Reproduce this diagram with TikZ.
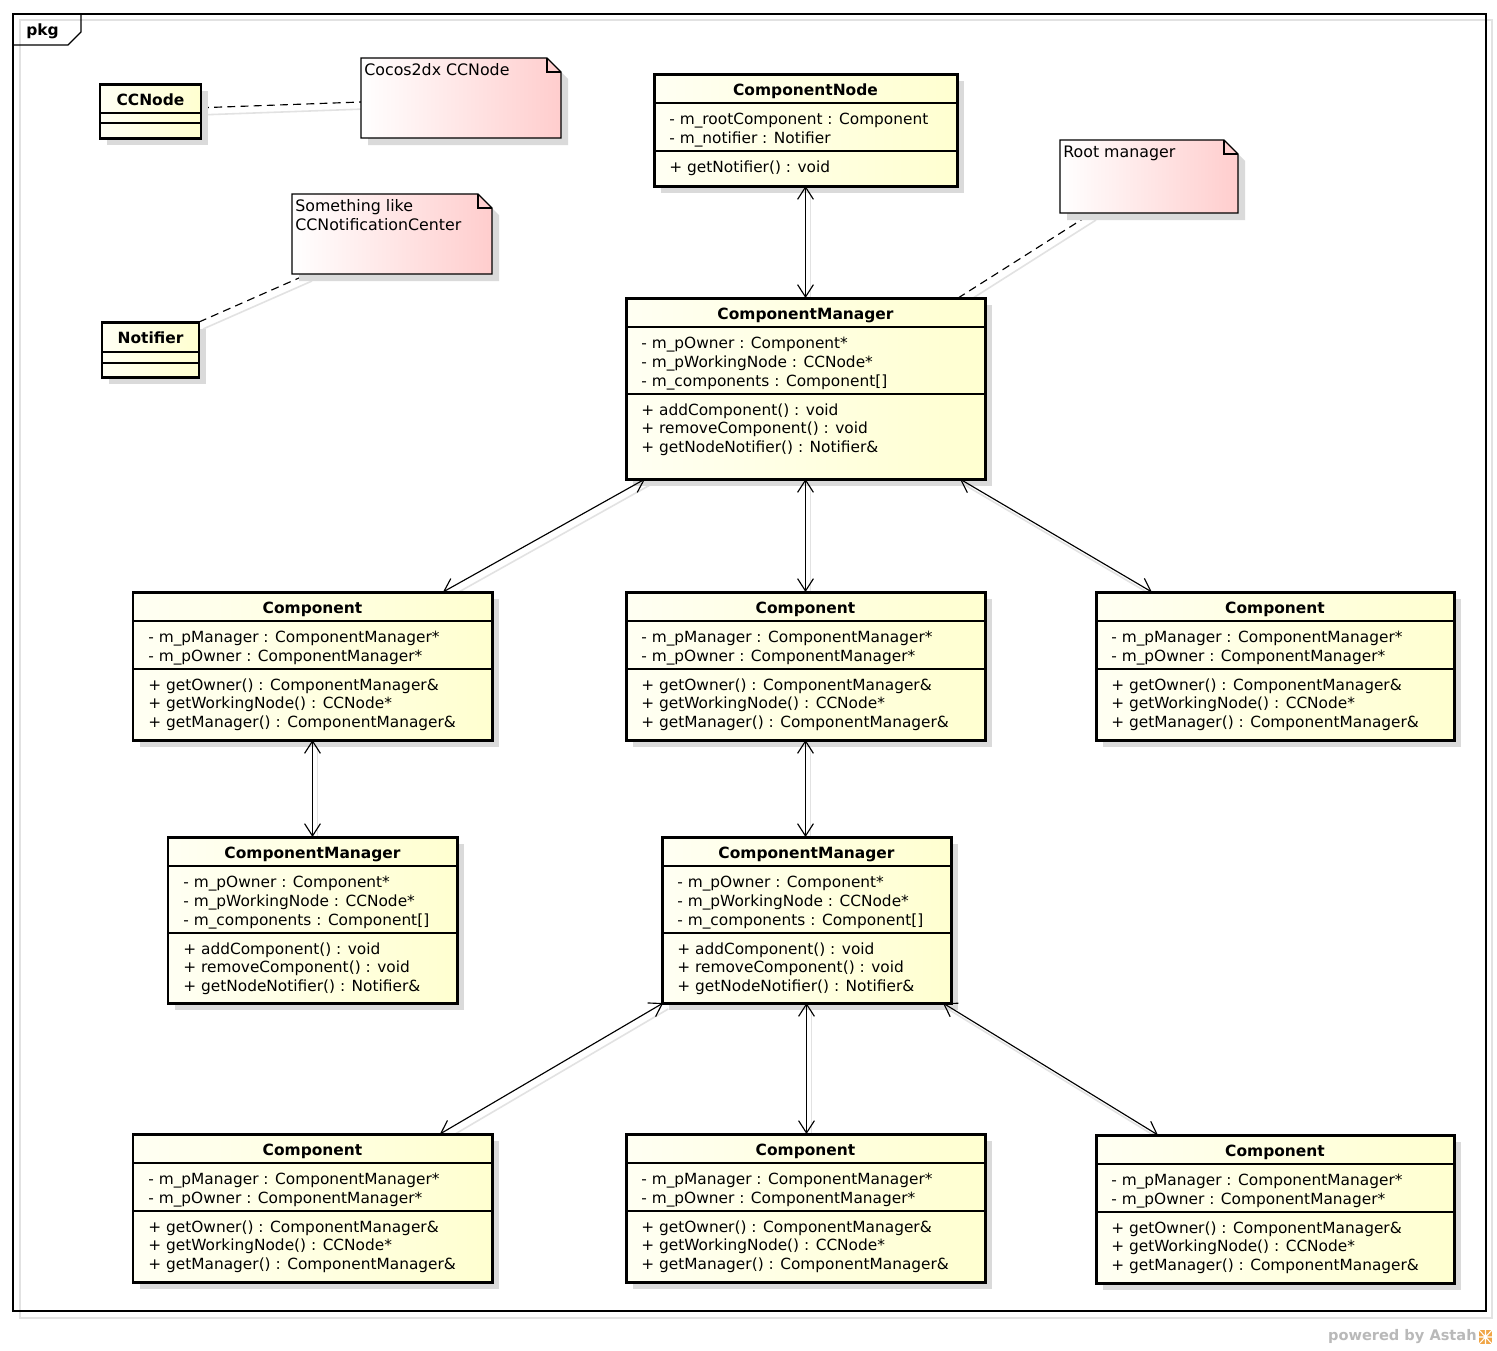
\documentclass[tikz,border=0pt]{standalone}
\usepackage{fontspec}
\setmainfont{DejaVu Sans}
\usetikzlibrary{arrows.meta,fit,calc}
\pgfdeclarelayer{bg}
\pgfdeclarelayer{paper}
\pgfsetlayers{paper,bg,main}
\definecolor{shadowgray}{RGB}{218,218,218}
\definecolor{lineshadow}{RGB}{226,226,226}
\definecolor{classA}{RGB}{255,255,243}
\definecolor{classB}{RGB}{255,255,208}
\definecolor{noteB}{RGB}{255,205,205}
\definecolor{astahgray}{RGB}{185,185,185}
\definecolor{astahorange}{RGB}{240,165,70}
\tikzset{
  classbox/.style={draw=black, line width=1.7pt, left color=classA, right color=classB, inner sep=0pt, outer sep=0pt},
  boxshadow/.style={fill=shadowgray},
  sepline/.style={draw=black, line width=0.8pt},
  titletext/.style={font=\fontsize{8.8}{10.6}\selectfont\bfseries, inner sep=0pt, text height=7.4pt, text depth=1.0pt},
  membertext/.style={font=\fontsize{8.75}{10.6}\selectfont, anchor=west, inner sep=0pt, text height=7.4pt, text depth=1.0pt},
  notetext/.style={font=\fontsize{9.0}{10.6}\selectfont, anchor=west, inner sep=0pt, text height=7.4pt, text depth=1.0pt},
  noteline/.style={draw=black, line width=0.7pt},
  notefill/.style={left color=white, right color=noteB},
  assoc/.style={draw=black, line width=0.65pt, <->, >={Straight Barb[length=7pt,width=9pt]}},
  assocshadow/.style={draw=lineshadow, line width=0.9pt},
  notelink/.style={draw=black, line width=0.65pt, dash pattern=on 4.5pt off 3pt},
  frameline/.style={draw=black, line width=0.7pt},
  frameshadow/.style={draw=lineshadow, line width=0.8pt},
}
\def\umlnattr{0}
\newcommand\umlclass[8]{%
  \fill[boxshadow] (#2+7,#3+7) rectangle (#4+7,#5+7);
  \node[classbox, fit={(#2,#3)(#4,#5)}] (#1) {};
  \node[titletext] (#1-title) at ({(#2+#4)/2},#3+15.5) {#6};
  \draw[sepline] (#2,#3+29) -- (#4,#3+29);
  \foreach \txt [count=\i] in {#7} {%
    \node[membertext] (#1-a\i) at (#2+15,{#3+45+(\i-1)*18.7}) {\txt};
    \xdef\umlnattr{\i}}%
  \draw[sepline] (#2,{#3+39+\umlnattr*19}) -- (#4,{#3+39+\umlnattr*19});
  \foreach \txt [count=\i] in {#8} {%
    \node[membertext] (#1-o\i) at (#2+15,{#3+39+\umlnattr*19+15.5+(\i-1)*18.7}) {\txt};}%
}
\newcommand\umlnote[6]{%
  \fill[boxshadow] (#2+7,#3+7) -- (#4+7-14,#3+7) -- (#4+7,#3+21) -- (#4+7,#5+7) -- (#2+7,#5+7) -- cycle;
  \shade[notefill] (#2,#3) -- (#4-14,#3) -- (#4,#3+14) -- (#4,#5) -- (#2,#5) -- cycle;
  \draw[noteline] (#2,#3) -- (#4-14,#3) -- (#4,#3+14) -- (#4,#5) -- (#2,#5) -- cycle;
  \draw[noteline] (#4-14,#3) -- (#4-14,#3+14) -- (#4,#3+14);
  \node[inner sep=0pt, outer sep=0pt, fit={(#2,#3)(#4,#5)}] (#1) {};
  \foreach \txt [count=\i] in {#6} {\node[notetext] (#1-l\i) at (#2+3,{#3+12+(\i-1)*19}) {\txt};}%
}
\newcommand\assocline[2]{%
  \begin{pgfonlayer}{bg}\draw[assocshadow] ([shift={(5,6)}]#1) -- ([shift={(5,6)}]#2);\end{pgfonlayer}
  \draw[assoc] (#1) -- (#2);}
\newcommand\notelinkline[2]{%
  \begin{pgfonlayer}{bg}
    \draw[assocshadow] ([shift={(4,7)}]#1) -- ([shift={(4,7)}]#2);
    \draw[notelink] (#1) -- (#2);
  \end{pgfonlayer}}
\begin{document}
\begin{tikzpicture}[x=0.02cm,y=-0.02cm]
\useasboundingbox (0,0) rectangle (1497,1350);
\begin{pgfonlayer}{paper}
\fill[white] (0,0) rectangle (1497,1350);
\end{pgfonlayer}
% frame
\begin{pgfonlayer}{bg}
\draw[frameshadow] (20,20) rectangle (1492,1318);
\end{pgfonlayer}
\draw[frameline] (13,14) rectangle (1486,1311);
\draw[frameline] (81,14) -- (81,32) -- (68,45) -- (13,45);
\node[titletext, anchor=west] (pkg) at (26,30) {pkg};

% CCNode
\fill[boxshadow] (107,91) rectangle (208,145);
\node[classbox, fit={(100,84)(201,138)}] (ccnode) {};
\node[titletext] (ccnode-title) at (150.5,99.5) {CCNode};
\draw[sepline] (100,113) -- (201,113);
\draw[sepline] (100,123) -- (201,123);

% Notifier
\fill[boxshadow] (109,329) rectangle (206,384);
\node[classbox, fit={(102,322)(199,377)}] (notifier) {};
\node[titletext] (notifier-title) at (150.5,338) {Notifier};
\draw[sepline] (102,352) -- (199,352);
\draw[sepline] (102,363) -- (199,363);

% notes
\umlnote{ccnote}{361}{58}{561}{138}{Cocos2dx CCNode}
\umlnote{sonote}{292}{194}{492}{274}{Something like, CCNotificationCenter}
\umlnote{rootnote}{1060}{140}{1238}{213}{Root manager}

% classes
\umlclass{cn}{654}{74}{957}{186}{ComponentNode}
  {- m\_rootComponent : Component, - m\_notifier : Notifier}
  {+ getNotifier() : void}
\umlclass{cm0}{626}{298}{985}{479}{ComponentManager}
  {- m\_pOwner : Component*, - m\_pWorkingNode : CCNode*, - m\_components : Component[]}
  {+ addComponent() : void, + removeComponent() : void, + getNodeNotifier() : Notifier\&}
\umlclass{c1}{133}{592}{492}{740}{Component}
  {- m\_pManager : ComponentManager*, - m\_pOwner : ComponentManager*}
  {+ getOwner() : ComponentManager\&, + getWorkingNode() : CCNode*, + getManager() : ComponentManager\&}
\umlclass{c2}{626}{592}{985}{740}{Component}
  {- m\_pManager : ComponentManager*, - m\_pOwner : ComponentManager*}
  {+ getOwner() : ComponentManager\&, + getWorkingNode() : CCNode*, + getManager() : ComponentManager\&}
\umlclass{c3}{1096}{592}{1454}{740}{Component}
  {- m\_pManager : ComponentManager*, - m\_pOwner : ComponentManager*}
  {+ getOwner() : ComponentManager\&, + getWorkingNode() : CCNode*, + getManager() : ComponentManager\&}
\umlclass{cml}{168}{837}{457}{1003}{ComponentManager}
  {- m\_pOwner : Component*, - m\_pWorkingNode : CCNode*, - m\_components : Component[]}
  {+ addComponent() : void, + removeComponent() : void, + getNodeNotifier() : Notifier\&}
\umlclass{cmm}{662}{837}{951}{1003}{ComponentManager}
  {- m\_pOwner : Component*, - m\_pWorkingNode : CCNode*, - m\_components : Component[]}
  {+ addComponent() : void, + removeComponent() : void, + getNodeNotifier() : Notifier\&}
\umlclass{c4}{133}{1134}{492}{1282}{Component}
  {- m\_pManager : ComponentManager*, - m\_pOwner : ComponentManager*}
  {+ getOwner() : ComponentManager\&, + getWorkingNode() : CCNode*, + getManager() : ComponentManager\&}
\umlclass{c5}{626}{1134}{985}{1282}{Component}
  {- m\_pManager : ComponentManager*, - m\_pOwner : ComponentManager*}
  {+ getOwner() : ComponentManager\&, + getWorkingNode() : CCNode*, + getManager() : ComponentManager\&}
\umlclass{c6}{1096}{1135}{1454}{1283}{Component}
  {- m\_pManager : ComponentManager*, - m\_pOwner : ComponentManager*}
  {+ getOwner() : ComponentManager\&, + getWorkingNode() : CCNode*, + getManager() : ComponentManager\&}

% note links
\coordinate (l1a) at ($(ccnode.north east)!0.44!(ccnode.south east)$);
\coordinate (l1b) at ($(ccnote.north west)!0.55!(ccnote.south west)$);
\coordinate (l2a) at (notifier.north east);
\coordinate (l2b) at ($(sonote.south west)!0.08!(sonote.south east)$);
\coordinate (l3a) at ($(cm0.north west)!0.925!(cm0.north east)$);
\coordinate (l3b) at ($(rootnote.south west)!0.18!(rootnote.south east)$);
\notelinkline{l1a}{l1b}
\notelinkline{l2a}{l2b}
\notelinkline{l3a}{l3b}

% associations
\coordinate (e1a) at (cn.south);
\coordinate (e1b) at (cm0.north);
\coordinate (e2a) at ($(cm0.south west)!0.053!(cm0.south east)$);
\coordinate (e2b) at ($(c1.north west)!0.8635!(c1.north east)$);
\coordinate (e3a) at (cm0.south);
\coordinate (e3b) at (cm0.south |- c2.north);
\coordinate (e4a) at ($(cm0.south west)!0.930!(cm0.south east)$);
\coordinate (e4b) at ($(c3.north west)!0.156!(c3.north east)$);
\coordinate (e5a) at (c1.south);
\coordinate (e5b) at (c1.south |- cml.north);
\coordinate (e6a) at (c2.south);
\coordinate (e6b) at (c2.south |- cmm.north);
\coordinate (e7a) at ($(cmm.south west)!0.004!(cmm.south east)$);
\coordinate (e7b) at ($(c4.north west)!0.855!(c4.north east)$);
\coordinate (e8a) at (cmm.south);
\coordinate (e8b) at (cmm.south |- c5.north);
\coordinate (e9a) at ($(cmm.south west)!0.972!(cmm.south east)$);
\coordinate (e9b) at ($(c6.north west)!0.173!(c6.north east)$);
\assocline{e1a}{e1b}
\assocline{e2a}{e2b}
\assocline{e3a}{e3b}
\assocline{e4a}{e4b}
\assocline{e5a}{e5b}
\assocline{e6a}{e6b}
\assocline{e7a}{e7b}
\assocline{e8a}{e8b}
\assocline{e9a}{e9b}

% footer
\node[font=\fontsize{8.3}{10}\selectfont\bfseries, text=astahgray, anchor=east, inner sep=0pt] (powered) at (1477,1337) {powered by Astah};
\fill[astahorange] (1479,1330) rectangle (1492,1344);
\draw[white, line width=0.6pt] (1479,1337) -- (1492,1337) (1485.5,1330) -- (1485.5,1344) (1479,1330) -- (1492,1344) (1479,1344) -- (1492,1330);
\end{tikzpicture}
\end{document}
